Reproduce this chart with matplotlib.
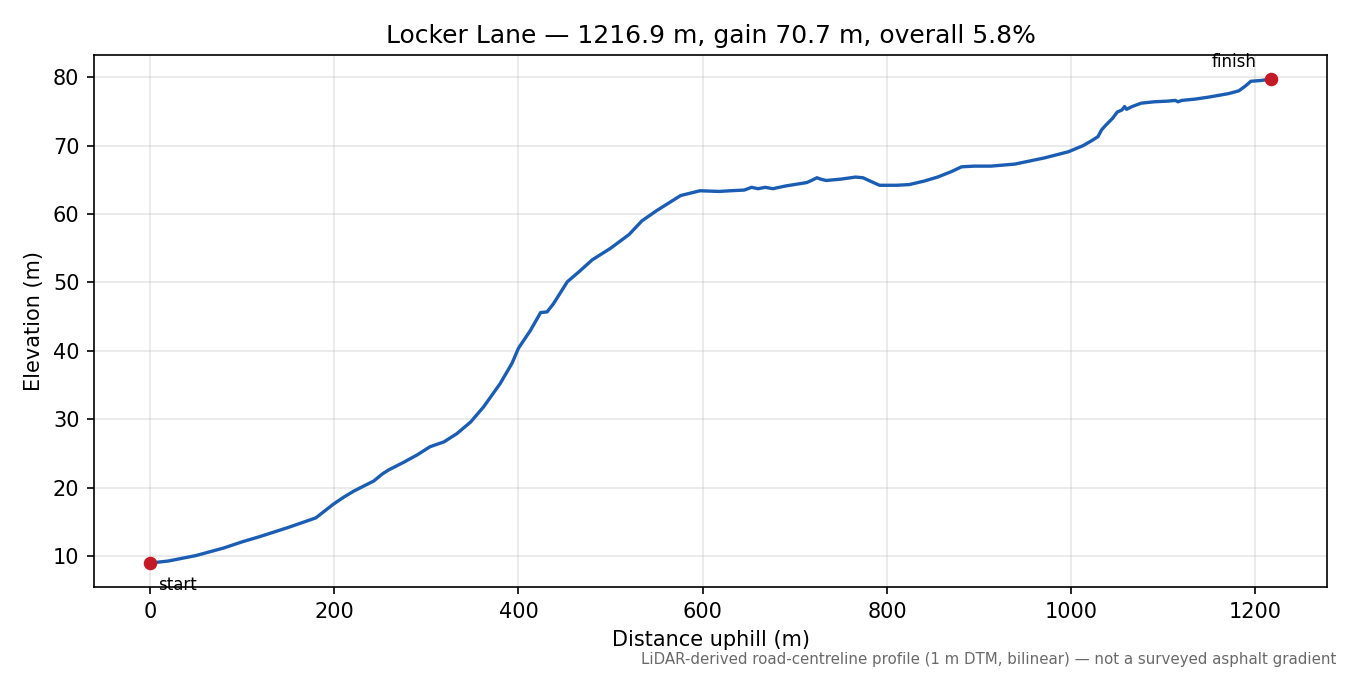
import matplotlib.pyplot as plt

name = "Locker Lane"

# distance uphill (m) and elevation (m)
dist = [0, 20, 50, 80, 100, 120, 150, 180, 199, 210, 221, 243, 252, 259, 275,
        290, 304, 319, 333, 348, 362, 380, 393, 400, 406, 413, 424, 431, 438,
        453, 466, 480, 500, 520, 534, 550, 576, 597, 618, 630, 645, 653, 660,
        668, 676, 690, 713, 718, 724, 728, 734, 750, 766, 774, 782, 792, 810,
        824, 840, 855, 870, 881, 895, 913, 939, 971, 997, 1013, 1022, 1029,
        1033, 1037, 1045, 1050, 1055, 1058, 1060, 1066, 1076, 1090, 1105, 1113,
        1116, 1120, 1135, 1150, 1171, 1182, 1190, 1195, 1205, 1216.9]
elev = [9.0, 9.3, 10.1, 11.2, 12.1, 12.9, 14.2, 15.6, 17.6, 18.6, 19.5, 21.0,
        22.0, 22.6, 23.7, 24.8, 26.0, 26.7, 27.9, 29.6, 31.8, 35.2, 38.2, 40.4,
        41.6, 43.0, 45.6, 45.7, 46.9, 50.1, 51.6, 53.3, 55.0, 57.0, 59.0, 60.5,
        62.7, 63.4, 63.3, 63.4, 63.5, 63.9, 63.7, 63.9, 63.7, 64.1, 64.6, 64.9,
        65.3, 65.1, 64.9, 65.1, 65.4, 65.3, 64.8, 64.2, 64.2, 64.3, 64.8, 65.4,
        66.2, 66.9, 67.0, 67.0, 67.3, 68.2, 69.1, 70.0, 70.7, 71.3, 72.3, 72.9,
        74.0, 74.9, 75.2, 75.7, 75.3, 75.7, 76.2, 76.4, 76.5, 76.6, 76.4, 76.6,
        76.8, 77.1, 77.6, 78.0, 78.8, 79.4, 79.5, 79.7]

length = dist[-1]
gain = elev[-1] - elev[0]
overall = gain / length * 100

fig, ax = plt.subplots(figsize=(9, 4.5), dpi=150)
fig.subplots_adjust(left=0.0696, right=0.983, top=0.9185, bottom=0.130)

ax.plot(dist, elev, color='#1b5db3', lw=1.6, zorder=2)
ax.plot([dist[0], dist[-1]], [elev[0], elev[-1]], 'o', color='#c41a28',
        ms=5.5, zorder=3)

ax.annotate('start', (dist[0], elev[0]), xytext=(4, -6), textcoords='offset points',
            ha='left', va='top', fontsize=8)
ax.annotate('finish', (dist[-1], elev[-1]), xytext=(-7, 4), textcoords='offset points',
            ha='right', va='bottom', fontsize=8)

ax.grid(True, alpha=0.3)
ax.set_xlabel('Distance uphill (m)')
ax.set_ylabel('Elevation (m)')
ax.set_title(f'{name} \u2014 {length:.1f} m, gain {gain:.1f} m, overall {overall:.1f}%')

fig.text(0.99, 0.012,
         'LiDAR-derived road-centreline profile (1 m DTM, bilinear) \u2014 not a surveyed asphalt gradient',
         ha='right', va='bottom', fontsize=7.2, color='dimgray')

fig.savefig('out.png', dpi=150)
